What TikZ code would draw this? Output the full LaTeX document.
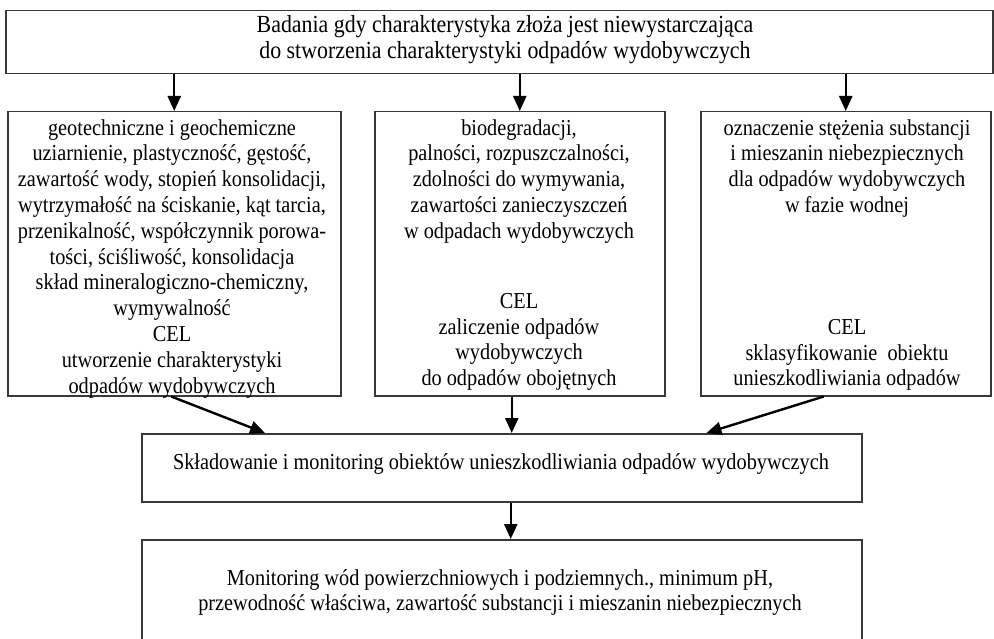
\documentclass[tikz,border=0pt]{standalone}
\usepackage{fontspec}
\setmainfont{Liberation Serif}[FakeStretch=0.89]
\usetikzlibrary{arrows.meta,calc}
\begin{document}
\begin{tikzpicture}[x=1pt,y=-1pt,
  box/.style={draw=black!78, line width=1.5pt, rectangle, inner sep=0, anchor=north west},
  txt/.style={align=center, inner sep=0, font=\fontsize{22.8}{25.8}\selectfont},
  bigtxt/.style={align=center, inner sep=0, font=\fontsize{24.6}{26}\selectfont},
  arr/.style={draw=black, line width=2.4pt, -{Triangle[length=15pt,width=13pt]}}]
\useasboundingbox (0,0) rectangle (994,639);
% boxes
\node[box, minimum width=987pt, minimum height=63pt] (top) at (5,10) {};
\node[box, minimum width=333pt, minimum height=284pt] (left) at (7,111) {};
\node[box, minimum width=290pt, minimum height=284pt] (mid) at (374,111) {};
\node[box, minimum width=290pt, minimum height=284pt] (right) at (700,111) {};
\node[box, minimum width=720pt, minimum height=68pt] (store) at (141,433) {};
\node[box, minimum width=720pt, minimum height=110pt] (mon) at (141,539) {};
% texts
\node[bigtxt, anchor=north] (ttop) at (505,15.5) {Badania gdy charakterystyka złoża jest niewystarczająca\\do stworzenia charakterystyki odpadów wydobywczych};
\node[txt, anchor=north] (tleft) at (172,119) {geotechniczne i geochemiczne\\uziarnienie, plastyczność, gęstość,\\zawartość wody, stopień konsolidacji,\\wytrzymałość na ściskanie, kąt tarcia,\\przenikalność, współczynnik porowa-\\tości, ściśliwość, konsolidacja\\skład mineralogiczno-chemiczny,\\wymywalność\\CEL\\utworzenie charakterystyki\\odpadów wydobywczych};
\node[txt, anchor=north] (tmid1) at (519,119) {biodegradacji,\\palności, rozpuszczalności,\\zdolności do wymywania,\\zawartości zanieczyszczeń\\w odpadach wydobywczych};
\node[txt, anchor=north] (tmid2) at (519,293) {CEL\\zaliczenie odpadów\\wydobywczych\\do odpadów obojętnych};
\node[txt, anchor=north] (tright1) at (847,119) {oznaczenie stężenia substancji\\i mieszanin niebezpiecznych\\dla odpadów wydobywczych\\w fazie wodnej};
\node[txt, anchor=north] (tright2) at (847,319) {CEL\\sklasyfikowanie\ \ obiektu\\unieszkodliwiania odpadów};
\node[txt, anchor=base] (tstore) at (501,469) {Składowanie i monitoring obiektów unieszkodliwiania odpadów wydobywczych};
\node[txt, anchor=north] (tmon) at (500,569) {Monitoring wód powierzchniowych i podziemnych., minimum pH,\\przewodność właściwa, zawartość substancji i mieszanin niebezpiecznych};
% connectors
\coordinate (a1) at ($(left.south)+(-3,0)$);
\coordinate (b1) at ($(store.north west)+(124,0)$);
\coordinate (a2) at ($(mid.south)+(-8,0)$);
\coordinate (b2) at ($(store.north)+(10,0)$);
\coordinate (a3) at ($(right.south)+(-22,0)$);
\coordinate (b3) at ($(store.north east)+(-156,0)$);
\coordinate (a4) at ($(store.south)+(9,0)$);
\coordinate (b4) at ($(mon.north)+(9,0)$);
\draw[arr] (top.south -| left.north) -- (left.north);
\draw[arr] (top.south -| mid.north) -- (mid.north);
\draw[arr] (top.south -| right.north) -- (right.north);
\draw[arr] (a1) -- (b1);
\draw[arr] (a2) -- (b2);
\draw[arr] (a3) -- (b3);
\draw[arr] (a4) -- (b4);
\end{tikzpicture}
\end{document}
